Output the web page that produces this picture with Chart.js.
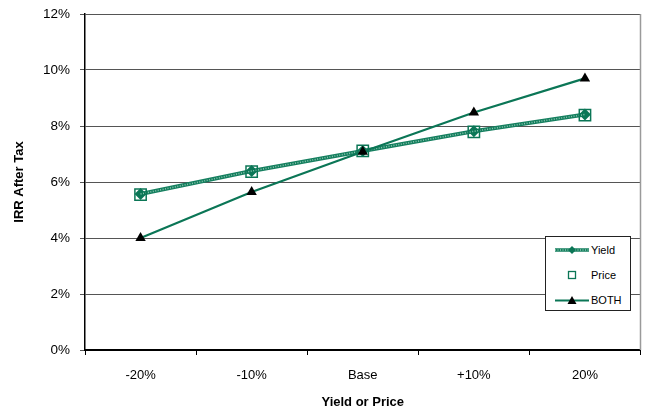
<!DOCTYPE html>
<html>
<head>
<meta charset="utf-8">
<script src="https://cdn.jsdelivr.net/npm/chart.js@4.4.1/dist/chart.umd.min.js"></script>
<style>
  html, body { margin: 0; padding: 0; background: #fff; }
  #wrap { position: relative; width: 650px; height: 410px; }
  #legend {
    position: absolute; left: 545px; top: 236px; width: 84px; height: 73px;
    border: 1px solid #222; background: #fff;
    font: 11px "Liberation Sans", Arial, sans-serif; color: #000;
  }
  #legend .row { position: absolute; left: 9px; height: 14px; display: flex; align-items: center; }
  #legend svg { display: block; margin-right: 2px; }
</style>
</head>
<body>
<div id="wrap">
  <canvas id="irrChart" width="650" height="410"></canvas>
  <div id="legend">
    <div class="row" style="top:6px">
      <svg width="34" height="12"><line x1="0" y1="6" x2="34" y2="6" stroke="#157f5f" stroke-width="3.5"/><line x1="0" y1="6" x2="34" y2="6" stroke="#8cc7b0" stroke-width="1.5" stroke-dasharray="1 1.5"/><polygon points="17,2 21,6 17,10 13,6" fill="#0b7656"/></svg>Yield
    </div>
    <div class="row" style="top:31px">
      <svg width="34" height="12"><rect x="13.5" y="2.5" width="7" height="7" fill="none" stroke="#0b7656" stroke-width="1.3"/></svg>Price
    </div>
    <div class="row" style="top:56px">
      <svg width="34" height="12"><line x1="0" y1="6.5" x2="34" y2="6.5" stroke="#0b7656" stroke-width="2"/><polygon points="17,2 21.5,10 12.5,10" fill="#000"/></svg>BOTH
    </div>
  </div>
</div>
<script>
// data (IRR after tax, %)
const categories = ['-20%', '-10%', 'Base', '+10%', '20%'];
const yieldIRR = [5.57, 6.39, 7.11, 7.81, 8.41];
const priceIRR = [5.55, 6.37, 7.11, 7.79, 8.39];
const bothIRR  = [4.00, 5.64, 7.08, 8.48, 9.70];
const yTicks = [0, 2, 4, 6, 8, 10, 12];

const green = '#0b7656';
const FONT = '"Liberation Sans", Arial, sans-serif';

// right border of the plot area
const frame = {
    id: 'frame',
    beforeDatasetsDraw(chart) {
        const a = chart.chartArea, c = chart.ctx;
        c.save();
        c.strokeStyle = '#9a9a9a';
        c.lineWidth = 1.5;
        c.beginPath();
        c.moveTo(a.right, a.top);
        c.lineTo(a.right, a.bottom);
        c.stroke();
        c.restore();
    }
};

new Chart(document.getElementById('irrChart'), {
    type: 'line',
    data: {
        labels: categories,
        datasets: [{
            label: 'BOTH',
            data: bothIRR,
            borderColor: green,
            borderWidth: 2.2,
            pointStyle: 'triangle',
            pointRadius: 6,
            pointBackgroundColor: '#000',
            pointBorderColor: '#000',
            pointBorderWidth: 0,
            order: 1
        }, {
            label: 'Price',
            data: priceIRR,
            showLine: false,
            pointStyle: 'rect',
            pointRadius: 8,
            pointBackgroundColor: 'rgba(0,0,0,0)',
            pointBorderColor: green,
            pointBorderWidth: 1.5,
            order: 2
        }, {
            label: 'Yield texture',
            data: yieldIRR,
            borderColor: '#8cc7b0',
            borderWidth: 1.5,
            borderDash: [1, 1.5],
            pointRadius: 0,
            order: 3
        }, {
            label: 'Yield',
            data: yieldIRR,
            borderColor: '#157f5f',
            borderWidth: 4,
            pointStyle: 'rectRot',
            pointRadius: 6,
            pointBackgroundColor: green,
            pointBorderColor: green,
            pointBorderWidth: 0,
            order: 4
        }]
    },
    options: {
        responsive: false,
        animation: false,
        layout: { padding: { top: 14, right: 7, left: 0, bottom: 0 } },
        plugins: {
            legend: { display: false },
            tooltip: { enabled: false }
        },
        scales: {
            x: {
                offset: true,
                grid: { offset: true, drawOnChartArea: false, drawTicks: true, tickLength: 5, color: '#000', lineWidth: 1 },
                border: { color: '#000', width: 2 },
                ticks: { color: '#000', font: { family: FONT, size: 13 }, padding: 13, maxRotation: 0 },
                title: { display: true, text: 'Yield or Price', color: '#000', font: { family: FONT, size: 13, weight: 'bold' }, padding: { top: 0, bottom: 0 } },
                afterFit(scale) { scale.height = 60; }
            },
            y: {
                min: 0,
                max: 12,
                afterBuildTicks(scale) { scale.ticks = yTicks.map(v => ({ value: v })); },
                grid: { color: '#555', lineWidth: 1, tickLength: 5 },
                border: { color: '#000', width: 1.5 },
                ticks: { color: '#000', font: { family: FONT, size: 13.5 }, padding: 10, callback: v => v + '%' },
                title: { display: true, text: 'IRR After Tax', color: '#000', font: { family: FONT, size: 13, weight: 'bold' }, padding: { top: 12, bottom: 0 } },
                afterFit(scale) {
                    scale.width = 85;
                    scale.paddingTop = 0;
                    scale.paddingBottom = 0;
                }
            }
        }
    },
    plugins: [frame]
});
</script>
</body>
</html>
